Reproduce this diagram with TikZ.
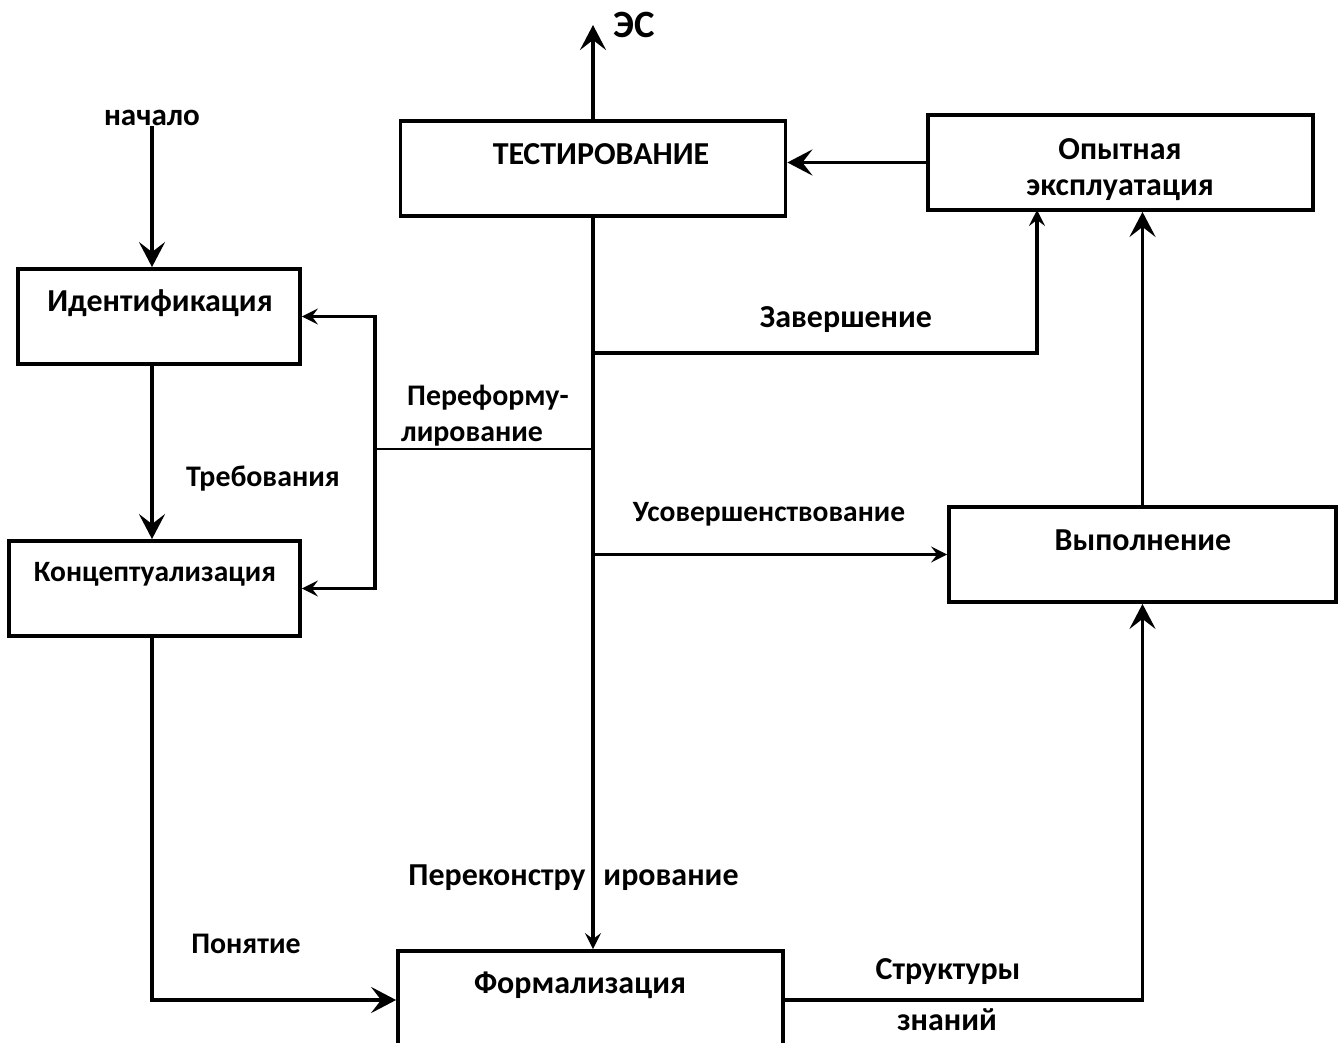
\documentclass[tikz,border=0pt]{standalone}
\usepackage{fontspec}
\setmainfont{Carlito}
\usetikzlibrary{arrows.meta}

\tikzset{
	box/.style={draw, line width=2.2pt, minimum height=1.9cm, inner sep=0pt},
	txt/.style={font=\bfseries\fontsize{18.2}{21}\selectfont, inner sep=0pt},
	txts/.style={font=\bfseries\fontsize{17}{20}\selectfont, inner sep=0pt},
	arr/.style={line width=2.1pt, -{Stealth[length=0.5cm, width=0.52cm, inset=0.2cm]}},
	arrs/.style={line width=2.1pt, -{Stealth[length=0.32cm, width=0.32cm, inset=0.12cm]}},
	thin/.style={line width=1.6pt}
}

\begin{document}
\begin{tikzpicture}[x=0.02cm, y=-0.02cm]
			\useasboundingbox (0,0) rectangle (1338,1043);
			\clip (0,0) rectangle (1338,1043);

			% boxes
			\node[box, minimum width=7.7cm] (test) at (593,168.5){};
				\node[txt] at(601,154){ТЕСТИРОВАНИЕ};
			\node[box, minimum width=7.7cm] (opyt) at (1120.5,162.5){};
				\node[txt] at(1120,149){Опытная};
				\node[txt] at(1120,190){эксплуатация};
			\node[box, minimum width=5.64cm] (ident) at (159,316.5){};
				\node[txt] at(160,303){Идентификация};
			\node[box, minimum width=5.82cm] (konc) at (154.5,588.5){};
				\node[txt, font=\bfseries\fontsize{16.8}{20}\selectfont] at(155,574){Концептуализация};
			\node[box, minimum width=7.74cm] (vyp) at (1142.5,554.5){};
				\node[txt] at(1143,540){Выполнение};
			\node[box, minimum width=7.7cm, minimum height=1.96cm] (form) at (590.5,1000){};
				\node[txt] at(580,985){Формализация};

			% labels
			\node[txt, font=\bfseries\fontsize{22}{24}\selectfont] (es) at(634,25){ЭС};
			\node[txt, font=\bfseries\fontsize{17.7}{20}\selectfont] (start) at(152,118){начало};
			\node[txts] (treb) at(263,479){Требования};
			\node[txts] (pf1) at(488,398){Переформу-};
			\node[txts] (pf2) at(472,436){лирование};
			\node[txt] (zav) at(846,320){Завершение};
			\node[txts, font=\bfseries\fontsize{16.8}{20}\selectfont] (usov) at(769,514){Усовершенствование};
			\node[txt, anchor=base] (pk1) at(497,885){Переконстру};
			\node[txt, anchor=base] (pk2) at(671,885){ирование};
			\node[txts] (pon) at(246,944){Понятие};
			\node[txt] (str1) at(948,972){Структуры};
			\node[txt] (str2) at(947,1020){знаний};

			% connectors
			\draw[arr] (test.north) to (test.north |- es);
			\draw[arr] (start.south) to (start.south |- ident.north);
			\draw[arr] (start.south |- ident.south) to (start.south |- konc.north);
			\draw[arr] (opyt.west) to (test.east |- opyt.west);
			\draw[arr] (vyp.north) to (vyp.north |- opyt.south);
			\draw[arr] (form.east) -| (vyp.south);
			\draw[arr] (start.south |- konc.south) |- (form.west);

			% spine
			\draw[arrs] (test.south) to (test.south |- form.north);
				\coordinate (s1) at (test.south |- 0,353);
				\coordinate (s2) at (test.south |- 0,449);
				\coordinate (r) at (375,449);
				\coordinate (zend) at (1037,210);
			\draw[arrs] (s1) -| (zend);
			\draw[thin] (s2) to (r);
			\draw[arrs] (r) |- (ident.east);
			\draw[arrs] (r) |- (konc.east);
			\draw[arrs] (test.south |- vyp.west) to (vyp.west);

		\end{tikzpicture}
\end{document}
